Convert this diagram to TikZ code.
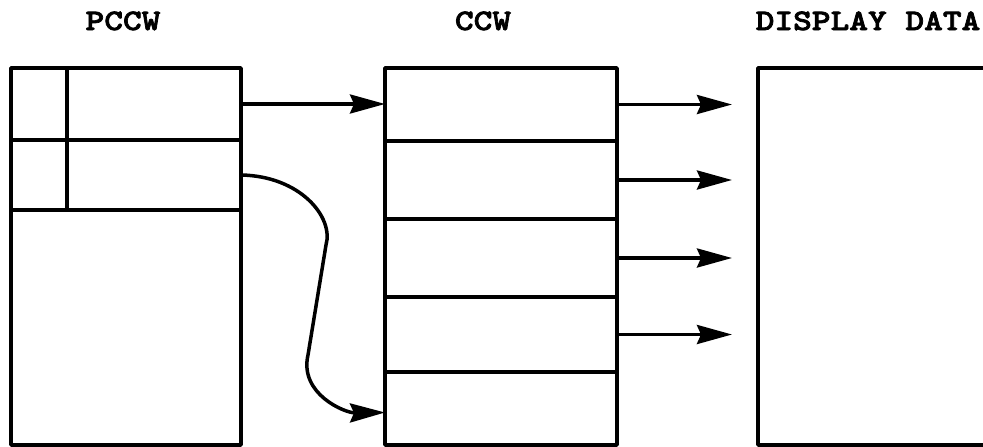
\documentclass[tikz,border=0pt]{standalone}
\usepackage{fontspec}
\newfontfamily\titlefont{lmmonolt10-bold.otf}[FakeStretch=1.2, FakeBold=2.5]
\usetikzlibrary{arrows.meta}
\begin{document}
\begin{tikzpicture}[x=1pt, y=-1pt, line width=3.5pt,
  cell/.style={draw, rectangle, inner sep=0pt, outer sep=0pt, line join=round},
  title/.style={font=\titlefont\fontsize{29.7}{30}\selectfont, anchor=base, inner sep=0pt},
  arr/.style={-{Stealth[length=35pt, width=19pt, inset=4pt]}}]
\useasboundingbox (0,0) rectangle (983,447);
\clip (0,0) rectangle (983,447);

% titles
\node[title] (tp) at (123,30) {PCCW};
\node[title] (tc) at (483,30) {CCW};
\node[title, anchor=base west] (td) at (754,30) {DISPLAY DATA};

% PCCW table
\node[cell, minimum width=56pt,  minimum height=72pt]  (p1a) at (39,104) {};
\node[cell, minimum width=174pt, minimum height=72pt]  (p1b) at (154,104) {};
\node[cell, minimum width=56pt,  minimum height=70pt]  (p2a) at (39,175) {};
\node[cell, minimum width=174pt, minimum height=70pt]  (p2b) at (154,175) {};
\node[cell, minimum width=230pt, minimum height=235pt] (p3)  at (126,327.5) {};

% CCW table
\node[cell, minimum width=232pt, minimum height=73pt] (c1) at (501,104.5) {};
\node[cell, minimum width=232pt, minimum height=78pt] (c2) at (501,180) {};
\node[cell, minimum width=232pt, minimum height=78pt] (c3) at (501,258) {};
\node[cell, minimum width=232pt, minimum height=75pt] (c4) at (501,334.5) {};
\node[cell, minimum width=232pt, minimum height=73pt] (c5) at (501,408.5) {};

% display data area
\node[cell, minimum width=242pt, minimum height=377pt] (dd) at (879,256.5) {};

% free ends of the output arrows
\coordinate (tipx) at (732,0);

% connectors
\draw[arr] (p1b.east) -- (p1b.east -| c1.west);
\draw[arr] (p2b.east) .. controls (300,176) and (334,217) .. (326,245)
  -- (308,355) .. controls (299,394) and (345,413) .. ([yshift=-4pt]c5.west);
\foreach \c in {c1,c2,c3,c4}
  \draw[arr] (\c.east) -- (\c.east -| tipx);
\end{tikzpicture}
\end{document}
